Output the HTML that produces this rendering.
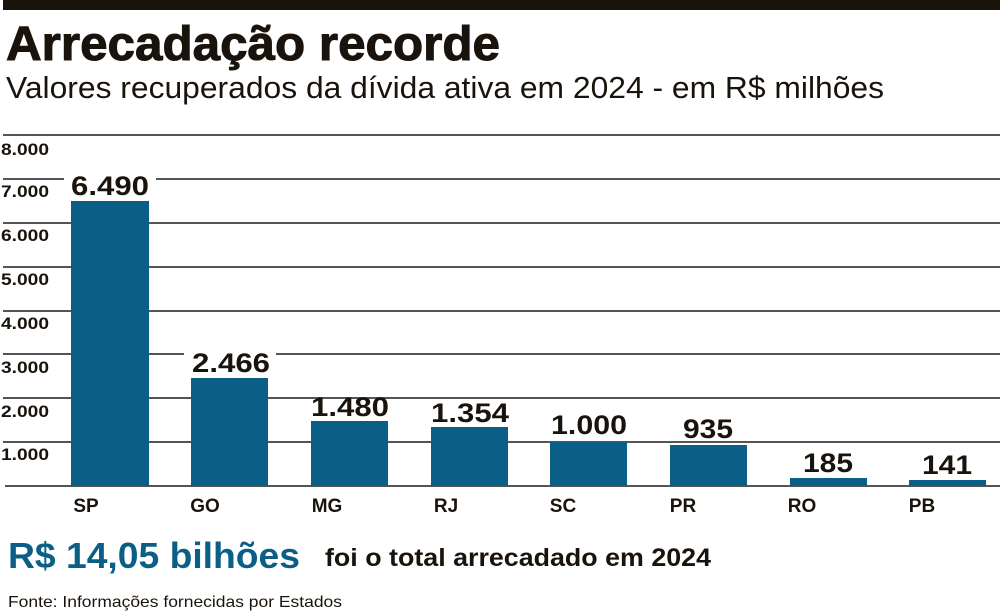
<!DOCTYPE html>
<html><head><meta charset="utf-8"><style>
html,body{margin:0;padding:0;background:#fff;width:1000px;height:611px;overflow:hidden}
svg{display:block}
</style></head><body>
<svg width="1000" height="611" xmlns="http://www.w3.org/2000/svg" font-family="'Liberation Sans', sans-serif">
<rect x="3" y="0" width="997" height="10" fill="#1a130c"/>
<text x="6" y="60" font-size="48" font-weight="bold" fill="#1a130c" textLength="494" lengthAdjust="spacingAndGlyphs" stroke="#1a130c" stroke-width="1">Arrecadação recorde</text>
<text x="6" y="98" font-size="31" fill="#1a130c" textLength="878" lengthAdjust="spacingAndGlyphs">Valores recuperados da dívida ativa em 2024 - em R$ milhões</text>
<g stroke="#555" stroke-width="2">
<line x1="3" y1="135" x2="1000" y2="135"/>
<line x1="3" y1="179" x2="1000" y2="179"/>
<line x1="3" y1="223" x2="1000" y2="223"/>
<line x1="3" y1="267" x2="1000" y2="267"/>
<line x1="3" y1="311" x2="1000" y2="311"/>
<line x1="3" y1="354" x2="1000" y2="354"/>
<line x1="3" y1="398" x2="1000" y2="398"/>
<line x1="3" y1="442" x2="1000" y2="442"/>
<line x1="5" y1="486" x2="1000" y2="486"/>
</g>
<g font-size="17" font-weight="bold" fill="#1a130c">
<rect x="0" y="140" width="56" height="18" fill="#fff"/><text x="1" y="155" textLength="48" lengthAdjust="spacingAndGlyphs">8.000</text>
<rect x="0" y="182" width="66" height="18" fill="#fff"/><text x="1" y="197" textLength="48" lengthAdjust="spacingAndGlyphs">7.000</text>
<rect x="0" y="226" width="56" height="18" fill="#fff"/><text x="1" y="241" textLength="48" lengthAdjust="spacingAndGlyphs">6.000</text>
<rect x="0" y="270" width="56" height="18" fill="#fff"/><text x="1" y="285" textLength="48" lengthAdjust="spacingAndGlyphs">5.000</text>
<rect x="0" y="314" width="56" height="18" fill="#fff"/><text x="1" y="329" textLength="48" lengthAdjust="spacingAndGlyphs">4.000</text>
<rect x="0" y="358" width="56" height="18" fill="#fff"/><text x="1" y="373" textLength="48" lengthAdjust="spacingAndGlyphs">3.000</text>
<rect x="0" y="402" width="56" height="18" fill="#fff"/><text x="1" y="417" textLength="48" lengthAdjust="spacingAndGlyphs">2.000</text>
<rect x="0" y="445" width="56" height="18" fill="#fff"/><text x="1" y="460" textLength="48" lengthAdjust="spacingAndGlyphs">1.000</text>
</g>
<g fill="#0b5f87">
<rect x="71" y="201" width="78" height="285"/>
<rect x="191" y="378" width="77" height="108"/>
<rect x="311" y="421" width="77" height="65"/>
<rect x="431" y="427" width="77" height="59"/>
<rect x="550" y="442" width="77" height="44"/>
<rect x="670" y="445" width="77" height="41"/>
<rect x="790" y="478" width="77" height="8"/>
<rect x="909" y="480" width="77" height="6"/>
</g>
<g font-size="27" font-weight="bold" fill="#1a130c" text-anchor="middle">
<rect x="64" y="168" width="92" height="30" fill="#fff"/><text x="110" y="195" textLength="78" lengthAdjust="spacingAndGlyphs">6.490</text>
<rect x="184" y="345" width="92" height="30" fill="#fff"/><text x="231" y="372" textLength="78" lengthAdjust="spacingAndGlyphs">2.466</text>
<text x="350" y="416" textLength="78" lengthAdjust="spacingAndGlyphs">1.480</text>
<text x="470" y="422" textLength="78" lengthAdjust="spacingAndGlyphs">1.354</text>
<rect x="544" y="408" width="90" height="30" fill="#fff"/><text x="589" y="434" textLength="76" lengthAdjust="spacingAndGlyphs">1.000</text>
<rect x="673" y="411" width="70" height="30" fill="#fff"/><text x="708" y="438" textLength="50" lengthAdjust="spacingAndGlyphs">935</text>
<rect x="793" y="445" width="70" height="30" fill="#fff"/><text x="828" y="472" textLength="50" lengthAdjust="spacingAndGlyphs">185</text>
<rect x="912" y="447" width="70" height="30" fill="#fff"/><text x="947" y="474" textLength="50" lengthAdjust="spacingAndGlyphs">141</text>
</g>
<g font-size="19" font-weight="bold" fill="#1a130c" text-anchor="middle">
<text x="86" y="512">SP</text>
<text x="205" y="512">GO</text>
<text x="327" y="512">MG</text>
<text x="446" y="512">RJ</text>
<text x="563" y="512">SC</text>
<text x="683" y="512">PR</text>
<text x="802" y="512">RO</text>
<text x="922" y="512">PB</text>
</g>
<text x="8" y="568" font-size="36" font-weight="bold" fill="#0b5f87" textLength="292" lengthAdjust="spacingAndGlyphs">R$ 14,05 bilhões</text>
<text x="325" y="566" font-size="25" font-weight="bold" fill="#1a130c" textLength="386" lengthAdjust="spacingAndGlyphs">foi o total arrecadado em 2024</text>
<text x="8" y="607" font-size="16" fill="#1a130c" textLength="334" lengthAdjust="spacingAndGlyphs">Fonte: Informações fornecidas por Estados</text>
</svg>
</body></html>
